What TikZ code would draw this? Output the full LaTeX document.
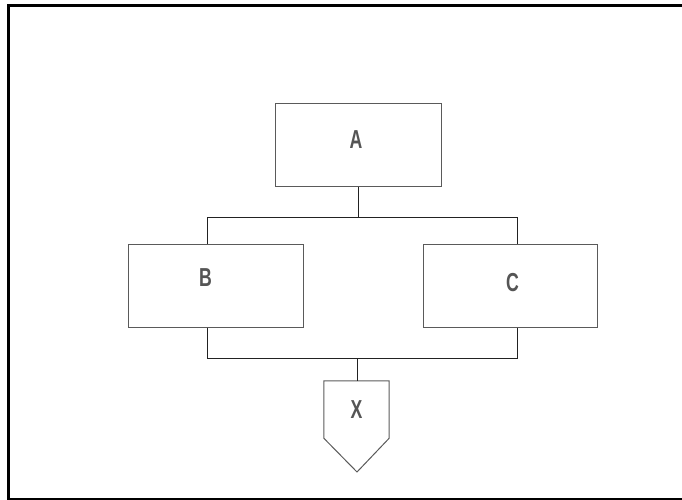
\documentclass[tikz,border=0pt]{standalone}
\usepackage{fontspec}
\setmainfont{Liberation Sans}
\usepackage{pdfrender}
\usepackage{tikz}
\usetikzlibrary{positioning, calc}
\definecolor{cadLine}{HTML}{5A5A5A}
\definecolor{cadText}{HTML}{555555}
\definecolor{cadWire}{HTML}{222222}
% hollow CAD-like letter
\newcommand{\cadletter}[1]{\scalebox{0.68}[1]{\textpdfrender{TextRenderingMode=1, LineWidth=0.8}{\bfseries #1}}}
\tikzset{
  block/.style={
    rectangle, draw=cadLine, line width=1pt,
    inner sep=0pt, align=center
  },
  tag/.style={
    font=\fontsize{26}{26}\selectfont, text=cadText, inner sep=0pt
  },
  wire/.style={cadWire, line width=1pt},
  sheet/.style={black, line width=3pt}
}

\begin{document}
\begin{tikzpicture}[x=1pt, y=-1pt]
      \useasboundingbox (0,0) rectangle (682,500);
      % drawing frame
      \draw[sheet] (8.5,5.5) rectangle (686,499.5);
      % blocks
      \node[block, minimum width=166pt, minimum height=82pt, label={[tag, xshift=-2pt, yshift=5.5pt]center:\cadletter{A}}] (A) at (358,145) {};
      \node[block, minimum width=175pt, minimum height=83pt, label={[tag, xshift=-10pt, yshift=7.5pt]center:\cadletter{B}}] (B) at (215.5,285.5) {};
      \node[block, minimum width=174pt, minimum height=83pt, label={[tag, xshift=2.5pt, yshift=2.5pt]center:\cadletter{C}}] (C) at (510,285.5) {};
      % off-page connector
      \node[minimum width=65pt, minimum height=57pt, inner sep=0pt, tag] (X) at (356.5,409.5) {\cadletter{X}};
      \coordinate (Xtip) at (357,472);
      \draw[block] (X.north west) -- (X.north east) -- (X.south east) -- (Xtip) -- (X.south west) -- cycle;
      % bus lines
      \coordinate (topL) at (207,217);
      \coordinate (topR) at (517,217);
      \coordinate (botL) at (207,358);
      \coordinate (botR) at (517,358);
      \draw[wire] (A.south) -- (A.south |- topL);
      \draw[wire] (topL |- B.north) -- (topL) -- (topR) -- (topR |- C.north);
      \draw[wire] (botL |- B.south) -- (botL) -- (botR) -- (botR |- C.south);
      \draw[wire] (X.north -| Xtip) -- (Xtip |- botL);
    \end{tikzpicture}
\end{document}
